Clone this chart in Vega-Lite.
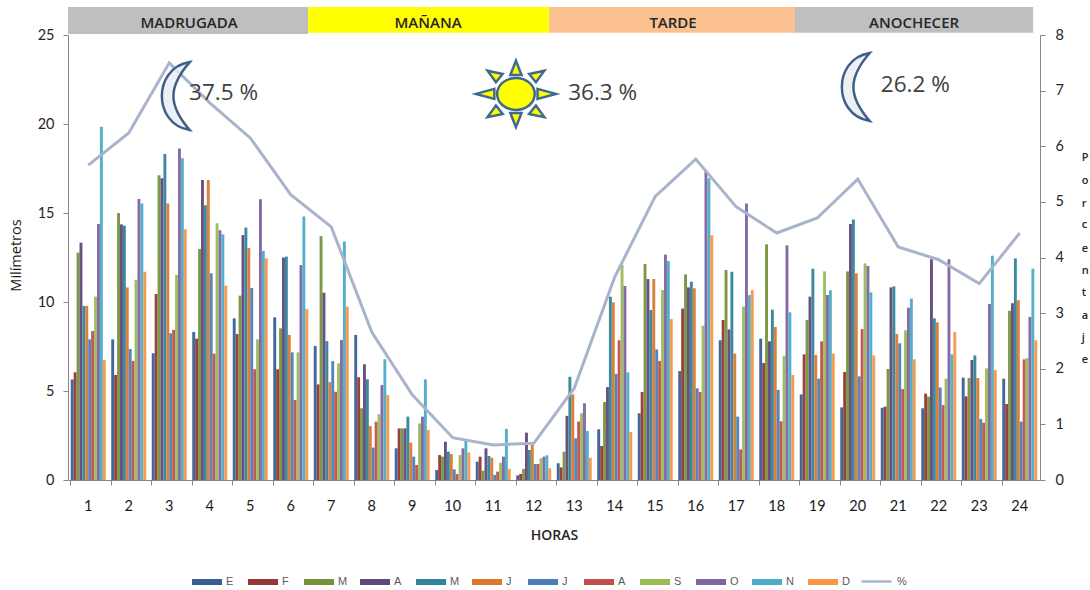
{"$schema":"https://vega.github.io/schema/vega-lite/v6.json","width":972,"height":445,"autosize":"none","padding":{"left":68,"top":35,"right":50,"bottom":110},"background":"white",
"datasets":{
"barras":[
{"h":1,"m":[5.65,6.05,12.77,13.33,9.78,9.78,7.9,8.37,10.3,14.38,19.85,6.74]},
{"h":2,"m":[7.9,5.9,15.0,14.36,14.29,10.82,7.36,6.69,11.24,15.79,15.54,11.7]},
{"h":3,"m":[7.12,10.45,17.12,16.95,18.31,15.54,8.24,8.43,11.52,18.63,18.07,14.08]},
{"h":4,"m":[8.31,7.94,12.98,16.85,15.43,16.85,11.61,7.1,14.42,14.03,13.8,10.92]},
{"h":5,"m":[9.08,8.2,10.36,13.76,14.18,13.03,10.79,6.22,7.9,15.77,12.87,12.45]},
{"h":6,"m":[9.14,6.22,8.52,12.5,12.55,8.15,7.17,4.5,7.17,12.08,14.8,9.6]},
{"h":7,"m":[7.53,5.37,13.7,10.52,7.8,5.5,6.68,4.96,6.55,7.87,13.4,9.74]},
{"h":8,"m":[8.15,5.77,4.03,6.5,5.66,3.03,1.82,3.28,3.7,5.34,6.78,4.78]},
{"h":9,"m":[1.78,2.9,2.9,2.9,3.56,2.1,1.31,0.84,3.18,3.56,5.66,2.81]},
{"h":10,"m":[0.56,1.4,1.31,2.15,1.59,1.46,0.6,0.34,1.4,1.78,2.25,1.55]},
{"h":11,"m":[1.03,1.31,0.52,1.78,1.35,1.25,0.28,0.47,0.97,1.31,2.87,0.62]},
{"h":12,"m":[0.26,0.34,0.62,2.66,1.69,1.97,0.9,0.9,1.22,1.31,1.39,0.66]},
{"h":13,"m":[0.94,0.71,1.59,3.6,5.8,4.81,2.34,3.28,3.75,4.31,2.75,1.25]},
{"h":14,"m":[2.85,1.91,4.38,5.22,10.3,9.98,5.96,7.85,12.08,10.9,6.05,2.7]},
{"h":15,"m":[3.75,4.94,12.13,11.29,9.55,11.29,7.34,6.69,10.67,12.66,12.3,9.04]},
{"h":16,"m":[6.12,9.63,11.55,10.82,11.14,10.77,5.15,4.94,8.67,17.4,16.95,13.75]},
{"h":17,"m":[7.85,8.99,11.8,8.46,11.7,7.1,3.56,1.72,9.74,15.54,10.39,10.67]},
{"h":18,"m":[7.94,6.57,13.24,7.79,9.57,8.6,5.06,3.3,6.97,13.18,9.42,5.9]},
{"h":19,"m":[4.81,7.06,8.99,10.3,11.87,7.02,5.69,7.79,11.72,10.39,10.66,7.1]},
{"h":20,"m":[4.08,6.07,11.72,14.38,14.64,11.61,5.82,8.48,12.17,12.02,10.54,7.0]},
{"h":21,"m":[4.06,4.12,6.24,10.82,10.88,8.2,7.68,5.11,8.41,9.68,10.19,6.78]},
{"h":22,"m":[4.03,4.85,4.68,12.4,9.08,8.86,5.2,4.21,5.69,12.4,7.06,8.31]},
{"h":23,"m":[5.75,4.7,5.73,6.74,7.0,5.73,3.43,3.22,6.27,9.89,12.6,6.18]},
{"h":24,"m":[5.69,4.27,9.51,9.93,12.45,10.1,3.28,6.78,6.84,9.16,11.87,7.85]}
],
"linea":[
{"h":1,"p":5.66},{"h":2,"p":6.24},{"h":3,"p":7.5},{"h":4,"p":6.78},{"h":5,"p":6.15},{"h":6,"p":5.13},{"h":7,"p":4.55},{"h":8,"p":2.66},{"h":9,"p":1.53},{"h":10,"p":0.76},{"h":11,"p":0.63},{"h":12,"p":0.66},{"h":13,"p":1.65},{"h":14,"p":3.65},{"h":15,"p":5.1},{"h":16,"p":5.77},{"h":17,"p":4.91},{"h":18,"p":4.44},{"h":19,"p":4.71},{"h":20,"p":5.41},{"h":21,"p":4.19},{"h":22,"p":3.96},{"h":23,"p":3.53},{"h":24,"p":4.44}
],
"franjas":[
{"a":0,"b":5.93,"y1":25.06,"y2":26.57,"n":"MADRUGADA","c":2.99,"col":"#bfbfbf"},
{"a":5.93,"b":11.88,"y1":25.12,"y2":26.57,"n":"MAÑANA","c":8.89,"col":"#ffff00"},
{"a":11.88,"b":17.95,"y1":25.12,"y2":26.57,"n":"TARDE","c":14.94,"col":"#fac090"},
{"a":17.95,"b":23.83,"y1":25.12,"y2":26.57,"n":"ANOCHECER","c":20.89,"col":"#bfbfbf"}
],
"porc":[{"x":2.99,"y":21.74,"t":"37.5 %"},{"x":12.35,"y":21.74,"t":"36.3 %"},{"x":20.07,"y":22.19,"t":"26.2 %"}],
"lunas":[{"x":2.67,"y":21.57},{"x":19.46,"y":22.08}],
"sol":[{"x":11.06,"y":21.69}],
"letras":[{"l":"P","y":18.1},{"l":"o","y":16.8},{"l":"r","y":15.5},{"l":"c","y":14.3},{"l":"e","y":13.0},{"l":"n","y":11.75},{"l":"t","y":10.5},{"l":"a","y":9.2},{"l":"j","y":8.0},{"l":"e","y":6.75}]
},
"layer":[
{"data":{"name":"barras"},
"transform":[{"flatten":["m"]},{"window":[{"op":"row_number","as":"i"}],"groupby":["h"]},{"lookup":"i","from":{"data":{"values":[{"i":1,"mes":"Enero"},{"i":2,"mes":"Febrero"},{"i":3,"mes":"Marzo"},{"i":4,"mes":"Abril"},{"i":5,"mes":"Mayo"},{"i":6,"mes":"Junio"},{"i":7,"mes":"Julio"},{"i":8,"mes":"Agosto"},{"i":9,"mes":"Septiembre"},{"i":10,"mes":"Octubre"},{"i":11,"mes":"Noviembre"},{"i":12,"mes":"Diciembre"}]},"key":"i","fields":["mes"]}}],
"mark":{"type":"bar","opacity":0.95},
"encoding":{
"x":{"field":"h","type":"ordinal","sort":null,"scale":{"paddingInner":0.136,"paddingOuter":0.068},
"axis":{"title":"HORAS","titleFont":"Open Sans","titleFontSize":14,"titleFontWeight":600,"titleColor":"#262626","titlePadding":16,"labelFont":"Lato","labelFontSize":14.5,"labelFontWeight":"normal","labelColor":"#1a1a1a","labelAngle":0,"labelPadding":14,"bandPosition":0,"domainColor":"#868686","tickColor":"#868686","tickSize":5,"grid":false}},
"xOffset":{"field":"mes","type":"nominal","sort":["Enero","Febrero","Marzo","Abril","Mayo","Junio","Julio","Agosto","Septiembre","Octubre","Noviembre","Diciembre"]},
"y":{"field":"m","type":"quantitative","scale":{"domain":[0,25],"nice":false},
"axis":{"orient":"left","values":[0,5,10,15,20,25],"title":"Milímetros","titleFont":"Open Sans","titleFontSize":14.5,"titleFontWeight":"normal","titleColor":"#1a1a1a","titleX":-45,"titleY":220,"labelFont":"Lato","labelFontSize":14.5,"labelColor":"#262626","labelPadding":9,"domainColor":"#868686","tickColor":"#868686","tickSize":5,"grid":false}},
"color":{"field":"mes","type":"nominal","scale":{"domain":["Enero","Febrero","Marzo","Abril","Mayo","Junio","Julio","Agosto","Septiembre","Octubre","Noviembre","Diciembre"],"range":["#376092","#953735","#76923c","#5f497a","#31849b","#d9782e","#4a7ebb","#c0504d","#9bbb59","#8064a2","#4bacc6","#f79646"]},
"legend":{"orient":"none","legendX":124,"legendY":532,"direction":"horizontal","columns":12,"title":null,"gridAlign":"all","symbolType":"M-1,-0.2H1V0.2H-1Z","symbolSize":900,"symbolStrokeWidth":0,"symbolOpacity":1,"columnPadding":12,"labelOffset":4,"labelFont":"Liberation Sans","labelFontSize":11,"labelColor":"#595959","labelExpr":"substring(datum.label,0,1)"}}
}},
{"data":{"name":"linea"},
"mark":{"type":"line","strokeWidth":3,"interpolate":"linear"},
"encoding":{
"x":{"field":"h","type":"ordinal","sort":null,"scale":{"paddingInner":0.136,"paddingOuter":0.068},"axis":null},
"y":{"field":"p","type":"quantitative","scale":{"domain":[0,8],"nice":false},
"axis":{"orient":"right","values":[0,1,2,3,4,5,6,7,8],"title":null,"labelFont":"Lato","labelFontSize":14.5,"labelColor":"#262626","labelPadding":10,"domainColor":"#868686","tickColor":"#868686","tickSize":5,"grid":false}},
"stroke":{"datum":"%","scale":{"domain":["%"],"range":["#a9b4cc"]},
"legend":{"orient":"none","legendX":792,"legendY":530,"title":null,"symbolType":"stroke","symbolSize":900,"symbolStrokeWidth":2.5,"labelOffset":4,"labelFont":"Liberation Sans","labelFontSize":11,"labelColor":"#595959"}}
}},
{"data":{"name":"franjas"},
"mark":{"type":"rect"},
"encoding":{
"x":{"field":"a","type":"quantitative","scale":{"domain":[0,24],"nice":false},"axis":null},
"x2":{"field":"b"},
"y":{"field":"y1","type":"quantitative","scale":{"domain":[0,25],"nice":false},"axis":null},
"y2":{"field":"y2"},
"fill":{"field":"col","type":"nominal","scale":null,"legend":null}
}},
{"data":{"name":"franjas"},
"transform":[{"calculate":"25.68","as":"ty"}],
"mark":{"type":"text","font":"Open Sans","fontSize":15,"fontWeight":600,"color":"#262626","baseline":"middle"},
"encoding":{
"x":{"field":"c","type":"quantitative","scale":{"domain":[0,24],"nice":false},"axis":null},
"y":{"field":"ty","type":"quantitative","scale":{"domain":[0,25],"nice":false},"axis":null},
"text":{"field":"n"}
}},
{"data":{"name":"lunas"},
"mark":{"type":"point","filled":true,"fill":"#e9eef4","fillOpacity":0.85,"stroke":"#3f5f8a","strokeWidth":2.5,"opacity":1,"shape":"M0.4,-1C-0.2,-0.9 -0.42,-0.4 -0.42,0C-0.42,0.4 -0.2,0.9 0.4,1C0.05,0.6 -0.08,0.3 -0.08,0C-0.08,-0.3 0.05,-0.6 0.4,-1Z","size":4624},
"encoding":{
"x":{"field":"x","type":"quantitative","scale":{"domain":[0,24],"nice":false},"axis":null},
"y":{"field":"y","type":"quantitative","scale":{"domain":[0,25],"nice":false},"axis":null}
}},
{"data":{"name":"sol"},
"mark":{"type":"point","filled":true,"fill":"#ffff00","stroke":"#3f6a8f","strokeWidth":2.5,"opacity":1,"size":6400,"shape":"M-0.47,0A0.47,0.4 0 1,0 0.47,0A0.47,0.4 0 1,0 -0.47,0ZM0.54,-0.125L1,0L0.54,0.125ZM-0.54,-0.125L-1,0L-0.54,0.125ZM-0.14,-0.475L0,-0.83L0.14,-0.475ZM-0.14,0.475L0,0.83L0.14,0.475ZM0.33,-0.5L0.71,-0.58L0.5,-0.29ZM-0.33,-0.5L-0.71,-0.58L-0.5,-0.29ZM0.33,0.5L0.71,0.58L0.5,0.29ZM-0.33,0.5L-0.71,0.58L-0.5,0.29Z"},
"encoding":{
"x":{"field":"x","type":"quantitative","scale":{"domain":[0,24],"nice":false},"axis":null},
"y":{"field":"y","type":"quantitative","scale":{"domain":[0,25],"nice":false},"axis":null}
}},
{"data":{"name":"porc"},
"mark":{"type":"text","font":"Open Sans","fontSize":22.5,"color":"#404040","align":"left","baseline":"middle"},
"encoding":{
"x":{"field":"x","type":"quantitative","scale":{"domain":[0,24],"nice":false},"axis":null},
"y":{"field":"y","type":"quantitative","scale":{"domain":[0,25],"nice":false},"axis":null},
"text":{"field":"t"}
}},
{"data":{"name":"letras"},
"transform":[{"calculate":"25.03","as":"lx"}],
"mark":{"type":"text","font":"Open Sans","fontSize":11,"fontWeight":600,"color":"#262626","align":"left","baseline":"middle"},
"encoding":{
"x":{"field":"lx","type":"quantitative","scale":{"domain":[0,24],"nice":false},"axis":null},
"y":{"field":"y","type":"quantitative","scale":{"domain":[0,25],"nice":false},"axis":null},
"text":{"field":"l"}
}}
],
"resolve":{"scale":{"x":"independent","y":"independent","color":"independent","stroke":"independent"}},
"config":{"view":{"stroke":null}}
}
